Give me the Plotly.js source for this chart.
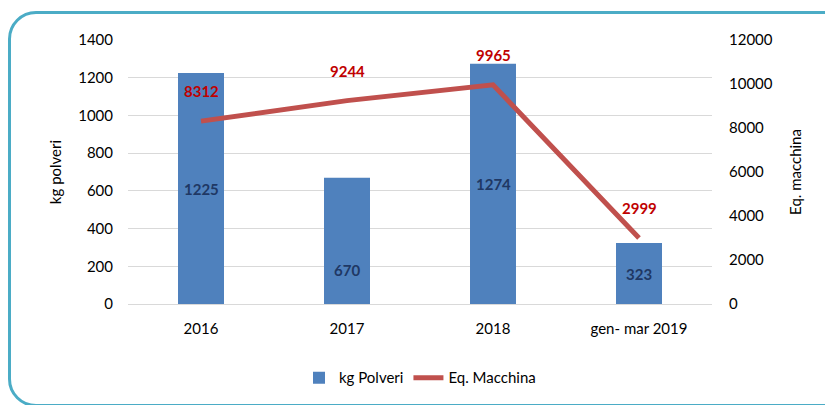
<!DOCTYPE html>
<html>
<head>
<meta charset="utf-8">
<script src="https://cdn.plot.ly/plotly-3.0.1.min.js"></script>
<style>
  body { margin: 0; background: #fff; }
  #wrap { position: relative; width: 825px; height: 405px; overflow: hidden; }
  #graf { width: 825px; height: 405px; }
  #cornice {
    position: absolute; left: 8px; top: 11px; width: 840px; height: 390px;
    border: 3px solid #4BACC6; border-radius: 28px; pointer-events: none;
  }
</style>
</head>
<body>
<div id="wrap">
  <div id="graf"></div>
  <div id="cornice"></div>
</div>
<script>
var anni = ["2016", "2017", "2018", "gen- mar 2019"];
var kgPolveri = [1225, 670, 1274, 323];
var eqMacchina = [8312, 9244, 9965, 2999];
// spostamento verticale delle etichette nelle barre (2017 è più in basso)
var spostaEtichetta = [0, -29, 0, 0];

var font = "Lato, 'Open Sans', sans-serif";

var barre = {
  x: anni,
  y: kgPolveri,
  type: 'bar',
  name: 'kg Polveri',
  marker: { color: '#4F81BD' },
  hoverinfo: 'none'
};

var linea = {
  x: anni,
  y: eqMacchina,
  type: 'scatter',
  mode: 'lines',
  name: 'Eq. Macchina',
  yaxis: 'y2',
  line: { color: '#C0504D', width: 5 },
  hoverinfo: 'none'
};

var note = [];
anni.forEach(function (a, i) {
  note.push({
    x: i, y: kgPolveri[i] / 2, xref: 'x', yref: 'y', text: '<b>' + kgPolveri[i] + '</b>',
    showarrow: false, yshift: spostaEtichetta[i],
    font: { family: font, size: 15, color: '#1F3864' }
  });
  note.push({
    x: i, y: eqMacchina[i], xref: 'x', yref: 'y2', text: '<b>' + eqMacchina[i] + '</b>',
    showarrow: false, yshift: 30,
    font: { family: font, size: 15, color: '#C00000' }
  });
});

var layout = {
  width: 825,
  height: 405,
  margin: { l: 128, r: 113, t: 40, b: 100 },
  paper_bgcolor: '#ffffff',
  plot_bgcolor: '#ffffff',
  font: { family: font, size: 15, color: '#000000' },
  bargap: 0.685,
  showlegend: true,
  legend: {
    orientation: 'h', x: 0.5, xanchor: 'center', y: -0.275, yanchor: 'middle',
    font: { family: font, size: 15 }
  },
  xaxis: {
    type: 'category',
    range: [-0.5, 3.5],
    showgrid: false,
    showline: false,
    ticks: '',
    ticklabelstandoff: 14,
    tickfont: { family: font, size: 15 }
  },
  yaxis: {
    title: { text: 'kg polveri', font: { family: font, size: 15 }, standoff: 12 },
    range: [0, 1400],
    dtick: 200,
    gridcolor: '#D9D9D9',
    zerolinecolor: '#D9D9D9',
    ticks: '',
    ticklabelstandoff: 14,
    tickfont: { family: font, size: 15 }
  },
  yaxis2: {
    title: { text: 'Eq. macchina', font: { family: font, size: 15 }, standoff: 18 },
    overlaying: 'y',
    side: 'right',
    range: [0, 12000],
    dtick: 2000,
    tickformat: 'd',
    showgrid: false,
    zeroline: false,
    ticks: '',
    ticklabelstandoff: 16,
    tickfont: { family: font, size: 15 }
  },
  annotations: note
};

Plotly.newPlot('graf', [barre, linea], layout, { staticPlot: true });
</script>
</body>
</html>
